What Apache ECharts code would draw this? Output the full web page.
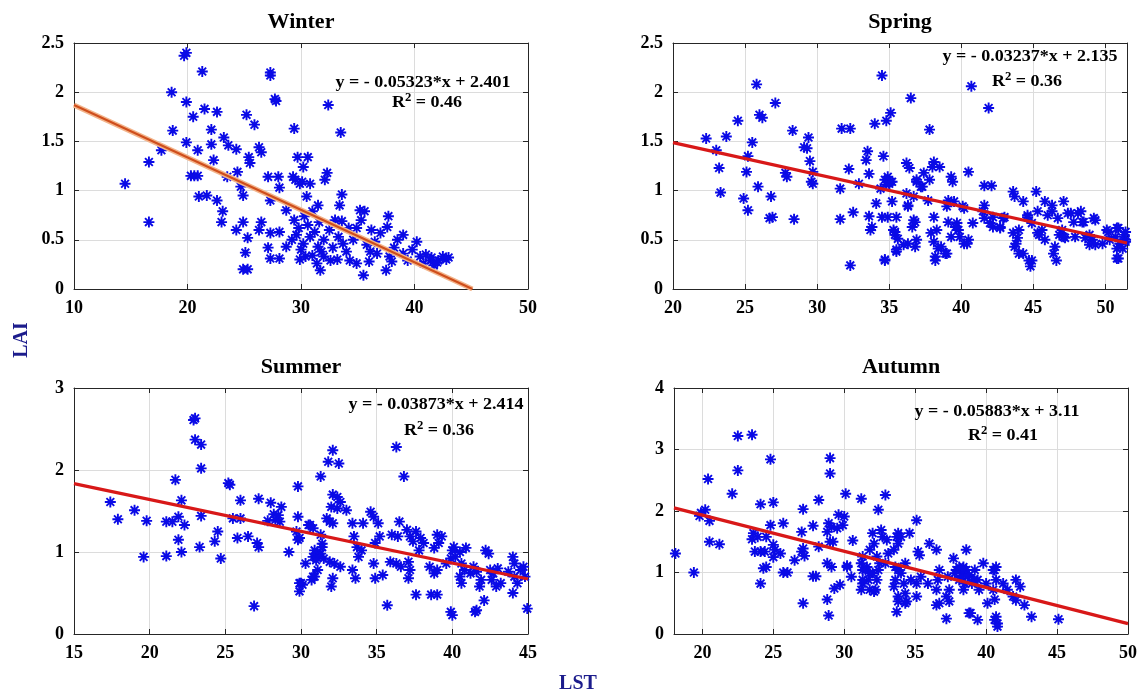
<!DOCTYPE html>
<html><head><meta charset="utf-8">
<script src="https://cdn.jsdelivr.net/npm/echarts@6/dist/echarts.min.js"></script>
<style>html,body{margin:0;padding:0;background:#fff}#c{width:1140px;height:695px}</style>
</head><body><div id="c"></div>
<script>
// ---- Data (LST, LAI) ----
const winterPoints = [[19.7,2.37],[19.9,2.40],[21.3,2.21],[27.3,2.20],[27.3,2.17],[27.7,1.93],[27.8,1.91],[18.6,2.00],[19.9,1.90],[20.5,1.75],[21.5,1.83],[22.6,1.80],[25.2,1.77],[25.9,1.67],[18.7,1.61],[22.1,1.62],[29.4,1.63],[19.9,1.49],[22.1,1.47],[23.2,1.54],[23.6,1.46],[24.3,1.42],[20.9,1.41],[17.7,1.41],[16.6,1.29],[22.3,1.31],[26.3,1.44],[26.5,1.39],[25.4,1.34],[25.5,1.28],[14.5,1.07],[20.3,1.15],[20.6,1.15],[20.9,1.15],[23.5,1.14],[24.4,1.19],[24.7,1.04],[24.9,0.95],[27.1,1.14],[28.0,1.14],[28.1,1.03],[21.0,0.94],[21.7,0.95],[22.6,0.90],[23.1,0.79],[23.0,0.68],[16.6,0.68],[24.9,0.68],[24.3,0.60],[25.3,0.52],[25.1,0.37],[24.9,0.20],[25.3,0.20],[26.5,0.68],[26.3,0.60],[27.3,0.57],[28.1,0.58],[27.1,0.42],[27.3,0.31],[28.1,0.31],[27.3,0.90],[28.7,0.80],[29.3,1.14],[29.9,1.07],[29.7,1.34],[30.2,1.24],[28.7,0.43],[29.2,0.50],[30.5,0.94],[32.4,1.87],[33.5,1.59],[30.6,1.34],[30.8,1.07],[29.5,1.11],[30.1,1.09],[32.3,1.18],[32.1,1.11],[31.0,0.79],[33.6,0.96],[33.4,0.85],[33.6,0.69],[35.2,0.80],[35.6,0.79],[35.3,0.70],[37.7,0.74],[37.6,0.63],[34.9,0.62],[36.2,0.60],[37.0,0.57],[39.0,0.55],[40.2,0.48],[33.3,0.53],[33.7,0.46],[35.5,0.14],[37.5,0.19],[34.3,0.29],[34.9,0.26],[36.1,0.38],[36.7,0.36],[37.8,0.33],[39.0,0.36],[39.4,0.29],[40.5,0.33],[41.4,0.29],[42.1,0.29],[42.8,0.30],[40.8,0.26],[41.7,0.24],[31.4,0.26],[32.0,0.33],[32.6,0.29],[30.2,0.46],[30.8,0.53],[31.5,0.43],[29.4,0.70],[29.8,0.62],[30.3,0.74],[29.6,0.55],[30.0,0.40],[30.6,0.65],[31.2,0.58],[31.6,0.68],[32.0,0.50],[32.5,0.60],[31.8,0.38],[30.4,0.33],[29.9,0.30],[32.8,0.42],[33.0,0.70],[34.0,0.38],[34.6,0.50],[35.8,0.45],[36.5,0.48],[38.2,0.42],[38.5,0.50],[39.8,0.40],[41.0,0.35],[42.5,0.33],[38.0,0.28],[36.0,0.28],[33.2,0.30],[34.2,0.62],[31.0,0.34],[31.5,0.85],[42.0,0.27],[43.0,0.32],[41.5,0.32],[31.7,0.19]];

const springPoints = [[25.8,2.08],[27.1,1.89],[24.5,1.71],[26.0,1.77],[26.2,1.74],[22.3,1.53],[23.7,1.55],[25.5,1.49],[23.0,1.41],[25.2,1.35],[23.2,1.23],[25.1,1.19],[23.3,0.98],[24.9,0.92],[25.2,0.80],[25.9,1.04],[26.8,0.94],[26.7,0.72],[26.9,0.73],[28.4,0.71],[28.3,1.61],[29.4,1.54],[29.1,1.44],[29.3,1.43],[27.8,1.18],[27.9,1.14],[29.5,1.30],[29.7,1.19],[29.6,1.09],[29.7,1.07],[31.7,1.63],[32.3,1.63],[32.2,1.22],[31.6,1.02],[31.6,0.71],[32.5,0.78],[32.3,0.24],[32.9,1.07],[34.5,2.17],[34.0,1.68],[34.8,1.71],[35.1,1.79],[33.5,1.40],[33.4,1.31],[33.6,1.17],[34.6,1.35],[34.1,0.87],[33.6,0.74],[33.8,0.63],[33.7,0.60],[34.5,0.73],[34.9,0.73],[35.5,0.73],[34.7,0.30],[35.5,0.38],[35.4,0.55],[35.6,0.51],[34.9,1.14],[35.0,1.07],[35.2,1.09],[34.4,1.02],[40.7,2.06],[41.9,1.84],[36.5,1.94],[37.8,1.62],[36.2,1.28],[36.4,1.23],[38.1,1.29],[38.5,1.24],[38.0,1.24],[37.4,1.18],[36.9,1.09],[37.3,1.04],[39.3,1.14],[39.4,1.09],[40.5,1.19],[36.2,0.97],[36.7,0.94],[36.3,0.85],[35.2,0.89],[37.7,0.90],[39.1,0.90],[39.5,0.89],[39.0,0.84],[40.1,0.84],[41.6,1.05],[42.1,1.05],[41.6,0.85],[36.7,0.70],[36.6,0.63],[38.1,0.73],[39.1,0.68],[39.7,0.67],[39.8,0.60],[39.3,0.53],[39.9,0.53],[40.2,0.46],[40.5,0.50],[37.9,0.57],[38.1,0.48],[38.4,0.41],[39.0,0.36],[38.2,0.29],[36.9,0.50],[36.3,0.46],[35.4,0.58],[35.5,0.40],[34.7,0.29],[40.8,0.67],[41.5,0.79],[42.2,0.73],[42.2,0.63],[42.7,0.63],[43.0,0.73],[43.6,0.99],[43.7,0.94],[44.3,0.89],[45.2,0.99],[45.8,0.89],[46.3,0.85],[47.1,0.89],[46.3,0.79],[44.6,0.75],[45.3,0.79],[46.0,0.75],[46.7,0.72],[47.4,0.77],[48.1,0.77],[47.8,0.68],[48.5,0.68],[49.3,0.70],[44.0,0.60],[43.9,0.52],[43.7,0.43],[44.0,0.36],[44.9,0.29],[44.8,0.23],[44.9,0.67],[45.3,0.57],[45.8,0.50],[45.6,0.60],[46.5,0.43],[46.6,0.29],[47.0,0.60],[47.1,0.53],[47.9,0.53],[48.6,0.52],[49.1,0.50],[49.3,0.45],[49.8,0.46],[50.2,0.58],[50.7,0.53],[50.9,0.62],[51.3,0.55],[51.4,0.58],[51.4,0.50],[51.4,0.48],[51.0,0.46],[51.2,0.41],[50.9,0.31],[34.7,1.11],[35.1,1.09],[34.8,1.06],[36.9,1.11],[37.2,1.04],[37.8,1.11],[36.3,0.84],[40.2,0.82],[35.3,0.60],[36.0,0.45],[36.8,0.43],[36.8,0.68],[38.2,0.33],[38.6,0.43],[38.9,0.36],[38.3,0.60],[39.6,0.63],[40.4,0.46],[41.6,0.72],[42.0,0.67],[42.7,0.62],[42.9,0.72],[43.6,0.57],[43.8,0.46],[44.3,0.36],[44.7,0.29],[44.6,0.73],[45.4,0.55],[46.4,0.36],[46.8,0.55],[47.2,0.52],[47.6,0.77],[48.3,0.79],[48.4,0.68],[49.2,0.72],[48.9,0.55],[48.9,0.45],[50.1,0.60],[50.8,0.62],[50.8,0.41],[50.8,0.31],[50.3,0.50]];

const summerPoints = [[22.9,2.61],[23.0,2.63],[23.0,2.37],[23.4,2.31],[23.4,2.02],[21.7,1.88],[17.4,1.61],[17.9,1.40],[19.0,1.51],[19.8,1.38],[19.6,0.94],[21.1,0.95],[21.1,1.37],[21.5,1.37],[21.9,1.43],[22.1,1.63],[22.3,1.33],[21.9,1.15],[22.1,1.00],[23.4,1.44],[23.3,1.06],[24.5,1.25],[24.3,1.13],[24.7,0.92],[25.2,1.84],[25.3,1.82],[26.0,1.63],[25.5,1.41],[26.0,1.41],[25.8,1.17],[26.5,1.19],[27.1,1.11],[27.2,1.06],[26.9,0.34],[27.2,1.65],[28.0,1.60],[28.7,1.55],[27.8,1.38],[28.2,1.46],[28.5,1.45],[28.6,1.37],[28.3,1.39],[29.2,1.00],[29.8,1.80],[29.8,1.43],[29.7,1.25],[29.8,1.15],[29.9,1.17],[29.9,0.62],[30.1,0.60],[30.3,0.86],[30.5,1.33],[36.3,2.28],[36.8,1.92],[32.1,2.24],[31.8,2.10],[32.5,2.08],[31.3,1.92],[32.1,1.70],[32.4,1.67],[32.0,1.55],[32.6,1.61],[32.4,1.53],[33.0,1.51],[31.7,1.41],[31.9,1.37],[32.1,1.35],[30.6,1.33],[30.8,1.29],[31.3,1.21],[31.1,1.00],[31.4,1.06],[31.0,0.94],[31.5,0.92],[30.9,0.70],[30.7,0.66],[30.0,0.62],[29.9,0.52],[31.9,0.88],[32.2,0.86],[32.6,0.82],[32.1,0.68],[32.0,0.58],[33.4,1.35],[34.1,1.35],[33.5,1.19],[33.7,1.06],[34.0,1.02],[33.8,0.94],[33.4,0.78],[33.6,0.68],[34.6,1.49],[34.8,1.43],[35.1,1.35],[35.2,1.19],[34.9,1.11],[34.8,0.86],[34.9,0.68],[35.4,0.72],[35.7,0.35],[35.9,0.88],[36.3,0.86],[36.6,0.82],[36.0,1.21],[36.4,1.19],[36.5,1.37],[37.0,1.27],[37.2,1.19],[37.4,1.13],[37.6,1.25],[37.9,1.17],[38.1,1.11],[37.8,1.02],[37.1,0.88],[37.2,0.78],[37.1,0.68],[37.6,0.48],[38.6,0.48],[39.0,0.48],[39.0,1.21],[39.3,1.19],[38.8,1.05],[39.1,1.11],[38.5,0.82],[38.8,0.74],[39.0,0.78],[39.9,0.92],[39.6,0.86],[40.0,1.02],[40.2,0.94],[40.1,1.06],[39.9,0.27],[40.0,0.23],[40.5,1.00],[40.9,1.05],[40.6,0.86],[40.5,0.70],[40.6,0.62],[40.8,0.78],[41.2,0.74],[41.4,0.82],[41.6,0.76],[41.5,0.27],[41.6,0.29],[42.1,0.41],[41.8,0.58],[41.9,0.66],[42.2,1.02],[42.4,0.98],[42.5,0.78],[42.6,0.66],[42.7,0.74],[43.0,0.80],[43.2,0.62],[42.9,0.58],[44.0,0.94],[44.1,0.86],[43.7,0.76],[44.1,0.70],[44.0,0.50],[44.3,0.62],[44.5,0.78],[44.7,0.82],[44.8,0.70],[44.95,0.31],[30.8,0.94],[31.0,0.90],[31.3,0.98],[31.1,0.78],[30.8,0.70],[30.9,1.02],[31.4,1.10]];

const autumnPoints = [[18.1,1.31],[19.4,1.00],[19.8,1.92],[20.2,2.02],[19.9,1.97],[20.4,2.52],[20.5,1.84],[20.5,1.50],[21.2,1.46],[22.1,2.28],[22.5,3.22],[22.5,2.66],[23.5,3.24],[24.1,2.11],[23.5,1.54],[23.6,1.64],[23.9,1.58],[24.5,1.58],[23.7,1.34],[24.1,1.34],[24.4,1.34],[24.1,0.82],[24.3,1.07],[24.5,1.09],[24.8,2.84],[24.8,1.77],[25.0,2.14],[25.0,1.45],[25.1,1.37],[25.0,1.25],[25.5,1.31],[25.7,1.80],[25.7,1.00],[26.0,1.00],[26.5,1.20],[27.1,2.03],[27.0,1.66],[27.0,1.34],[27.2,1.27],[27.1,1.39],[27.1,0.50],[27.8,0.94],[28.0,0.94],[27.8,1.76],[28.2,2.18],[28.2,1.42],[28.8,1.66],[28.9,1.80],[29.1,1.74],[29.5,1.72],[29.2,1.50],[29.0,1.50],[29.0,2.86],[29.0,2.61],[29.6,1.94],[28.8,1.15],[29.1,1.09],[28.8,0.56],[28.9,0.30],[29.3,0.74],[29.7,0.80],[30.1,2.28],[30.2,1.11],[30.6,1.52],[30.5,0.93],[31.2,2.20],[31.3,1.04],[31.3,0.82],[31.6,1.09],[31.2,0.72],[31.7,0.88],[32.0,0.99],[31.8,0.72],[32.0,1.64],[32.1,1.47],[31.8,1.37],[32.3,1.26],[32.2,0.72],[32.4,2.02],[32.9,2.26],[32.6,1.69],[32.7,1.58],[33.0,1.53],[33.1,1.31],[32.9,1.15],[33.5,1.37],[33.8,1.47],[33.7,1.58],[32.4,1.04],[33.5,0.77],[33.7,0.36],[33.8,0.61],[35.1,1.85],[33.8,1.64],[34.0,1.58],[34.6,1.64],[32.5,1.15],[33.6,1.09],[33.8,1.04],[34.3,1.15],[34.0,0.99],[33.6,0.88],[34.2,0.82],[34.3,0.66],[34.4,0.53],[35.2,1.34],[35.3,1.28],[35.4,0.93],[35.1,0.82],[34.7,0.88],[36.0,1.47],[36.5,1.37],[35.9,0.82],[36.6,0.88],[36.5,0.72],[36.7,0.50],[37.2,0.25],[36.7,1.04],[37.3,0.93],[37.4,0.72],[37.2,0.61],[37.7,1.23],[38.4,1.09],[38.6,1.37],[38.3,0.99],[38.8,0.34],[39.4,0.23],[37.9,1.04],[38.1,0.88],[38.5,0.82],[38.7,0.93],[38.4,0.72],[39.0,0.82],[39.2,1.04],[39.4,0.88],[39.5,0.72],[39.8,1.15],[40.0,0.82],[40.1,0.50],[40.6,1.04],[40.7,0.88],[40.5,0.72],[40.6,0.56],[40.7,0.28],[40.8,0.17],[40.6,0.23],[41.2,0.82],[41.5,0.72],[41.9,0.61],[42.1,0.88],[42.4,0.77],[42.7,0.47],[43.2,0.28],[42.1,0.55],[45.1,0.24],[37.8,0.99],[38.1,1.09],[38.6,1.04],[38.3,0.93],[38.8,0.96],[39.1,0.88],[40.5,1.04],[40.7,1.09],[30.0,1.91],[29.9,1.77],[30.2,1.09],[31.2,1.15],[31.3,1.26],[31.5,1.04],[31.3,0.88],[31.8,0.99],[32.1,0.69],[32.3,0.88],[33.8,0.53],[34.3,0.50],[35.1,0.61],[36.5,0.47],[37.4,0.53],[38.9,0.34],[40.8,0.12]];

// panel meta: titles, axis ranges [min, max, step], fitted equations
const panelTitles = ['Winter', 'Spring', 'Summer', 'Autumn'];
const xRanges = [[10, 50, 10], [20, 51.5, 5], [15, 45, 5], [18, 50, 5]];
const yRanges = [[0, 2.5, 0.5], [0, 2.5, 0.5], [0, 3, 1], [0, 4, 1]];
const slopes = [-0.05323, -0.03237, -0.03873, -0.05883];
const intercepts = [2.401, 2.135, 2.414, 3.11];
const fitEnds = [[10, 45.1], [20, 51.5], [15, 45], [18, 50]];
const eqTexts = ['y = - 0.05323*x + 2.401', 'y = - 0.03237*x + 2.135', 'y = - 0.03873*x + 2.414', 'y = - 0.05883*x + 3.11'];
const r2Values = ['0.46', '0.36', '0.36', '0.41'];

// ---- Layout ----
const grids = [
  {left: 74, top: 43, width: 454, height: 246},
  {left: 673, top: 43, width: 454, height: 246},
  {left: 74, top: 388, width: 454, height: 246},
  {left: 674, top: 388, width: 454, height: 246}
];
const eqPos = [[423, 83, 427, 103], [1030, 57, 1027, 82], [436, 405, 439, 431], [997, 412, 1003, 436]];
const FONT = 'Liberation Serif';
const allPoints = [winterPoints, springPoints, summerPoints, autumnPoints];
const asterisk = 'path://M0,-10L0,10M-10,0L10,0M-7.07,-7.07L7.07,7.07M-7.07,7.07L7.07,-7.07';

const xAxes = [], yAxes = [], series = [], graphics = [];
grids.forEach((g, i) => {
  const [xmin, xmax, xstep] = xRanges[i];
  const [ymin, ymax, ystep] = yRanges[i];
  // when min is not a multiple of the step, let ECharts choose nice ticks (it gives the same step)
  const xInterval = (Math.abs(xmin / xstep - Math.round(xmin / xstep)) < 1e-9) ? xstep : undefined;
  const common = {
    axisLine: {show: true, onZero: false, lineStyle: {color: '#262626', width: 1}},
    axisTick: {show: true, inside: true, length: 5, lineStyle: {color: '#262626'}}
  };
  const xLabelFmt = v => (Math.abs(v / xstep - Math.round(v / xstep)) < 1e-6 ? String(v) : '');
  xAxes.push(Object.assign({
    type: 'value', gridIndex: i, min: xmin, max: xmax, interval: xInterval, position: 'bottom',
    splitLine: {show: true, lineStyle: {color: '#dcdcdc', width: 1}},
    axisLabel: {fontFamily: FONT, fontWeight: 'bold', fontSize: 18, color: '#000', margin: 10, formatter: xLabelFmt}
  }, common));
  xAxes.push(Object.assign({
    type: 'value', gridIndex: i, min: xmin, max: xmax, interval: xInterval, position: 'top',
    splitLine: {show: false}, axisLabel: {show: false}
  }, common));
  yAxes.push(Object.assign({
    type: 'value', gridIndex: i, min: ymin, max: ymax, interval: ystep, position: 'left',
    splitLine: {show: true, lineStyle: {color: '#dcdcdc', width: 1}},
    axisLabel: {fontFamily: FONT, fontWeight: 'bold', fontSize: 18, color: '#000', margin: 10}
  }, common));
  yAxes.push(Object.assign({
    type: 'value', gridIndex: i, min: ymin, max: ymax, interval: ystep, position: 'right',
    splitLine: {show: false}, axisLabel: {show: false}
  }, common));

  series.push({
    type: 'scatter', xAxisIndex: 2 * i, yAxisIndex: 2 * i, data: allPoints[i],
    symbol: asterisk, symbolSize: 11, z: 3,
    itemStyle: {color: 'rgba(0,0,0,0)', borderColor: '#0a0ae6', borderWidth: 1.9, opacity: 1},
    emphasis: {disabled: true}, silent: true
  });
  const fitLine = fitEnds[i].map(x => [x, slopes[i] * x + intercepts[i]]);
  if (i === 0) {
    series.push({type: 'line', xAxisIndex: 0, yAxisIndex: 0, data: fitLine, symbol: 'none', z: 4,
      lineStyle: {color: '#f3b58c', width: 5}, silent: true, clip: true});
    series.push({type: 'line', xAxisIndex: 0, yAxisIndex: 0, data: fitLine, symbol: 'none', z: 5,
      lineStyle: {color: '#cf4e1c', width: 2.2}, silent: true, clip: true});
  } else {
    series.push({type: 'line', xAxisIndex: 2 * i, yAxisIndex: 2 * i, data: fitLine, symbol: 'none', z: 5,
      lineStyle: {color: '#d81818', width: 3.2}, silent: true, clip: true});
  }

  graphics.push({type: 'text', x: g.left + g.width / 2, y: g.top - 21, z: 10,
    style: {text: panelTitles[i], font: 'bold 22px "' + FONT + '"', fill: '#000', align: 'center', verticalAlign: 'middle'}});
  const [ex, ey, rx, ry] = eqPos[i];
  graphics.push({type: 'text', x: ex, y: ey, z: 10, scaleX: 1.06,
    style: {text: eqTexts[i], font: 'bold 17px "' + FONT + '"', fill: '#000', align: 'center', verticalAlign: 'middle'}});
  graphics.push({type: 'text', x: rx, y: ry, z: 10, scaleX: 1.06,
    style: {text: 'R{sup|2} = ' + r2Values[i], font: 'bold 17px "' + FONT + '"', fill: '#000', align: 'center', verticalAlign: 'middle',
      rich: {sup: {font: 'bold 12px "' + FONT + '"', fill: '#000', verticalAlign: 'top', padding: [0, 0, 10, 0]}}}});
});

graphics.push({type: 'text', x: 22, y: 340, rotation: Math.PI / 2, z: 10,
  style: {text: 'LAI', font: 'bold 20px "' + FONT + '"', fill: '#1c1c8c', align: 'center', verticalAlign: 'middle'}});
graphics.push({type: 'text', x: 578, y: 684, z: 10,
  style: {text: 'LST', font: 'bold 20px "' + FONT + '"', fill: '#1c1c8c', align: 'center', verticalAlign: 'middle'}});

const chart = echarts.init(document.getElementById('c'), null, {renderer: 'canvas'});
chart.setOption({
  backgroundColor: '#fff',
  animation: false,
  grid: grids.map(g => Object.assign({containLabel: false}, g)),
  xAxis: xAxes,
  yAxis: yAxes,
  series: series,
  graphic: graphics
});
</script></body></html>
